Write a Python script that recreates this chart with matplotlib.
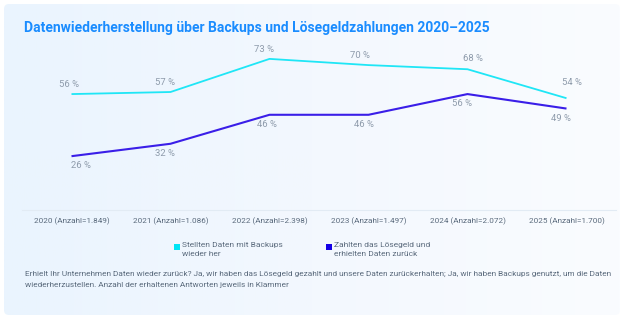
import numpy as np
import matplotlib
matplotlib.use("Agg")
import matplotlib.pyplot as plt
from matplotlib.patches import FancyBboxPatch, Rectangle
from matplotlib.colors import LinearSegmentedColormap

plt.rcParams['font.family'] = ['Roboto', 'DejaVu Sans']

# ---- data ----
categories = ["2020 (Anzahl=1.849)", "2021 (Anzahl=1.086)", "2022 (Anzahl=2.398)",
              "2023 (Anzahl=1.497)", "2024 (Anzahl=2.072)", "2025 (Anzahl=1.700)"]
backups = [56, 57, 73, 70, 68, 54]
ransom = [26, 32, 46, 46, 56, 49]
series_names = ["Stellten Daten mit Backups\nwieder her",
                "Zahlten das Lösegeld und\nerhielten Daten zurück"]
title = "Datenwiederherstellung über Backups und Lösegeldzahlungen 2020–2025"
footnote = ("Erhielt Ihr Unternehmen Daten wieder zurück? Ja, wir haben das Lösegeld gezahlt und unsere Daten "
            "zurückerhalten; Ja, wir haben Backups genutzt, um die Daten\n"
            "wiederherzustellen. Anzahl der erhaltenen Antworten jeweils in Klammer")

# label offsets (points) for readability
backup_dx = [-2, -4, -4, -6, 4, 4]
backup_dy = [7, 7, 6.5, 7, 8, 11]
ransom_dx = [7, -4, -2, -3, -4, -4]
ransom_dy = [-7, -7, -7, -7, -7, -7]

W, H = 627, 321
fig = plt.figure(figsize=(W / 100, H / 100), dpi=100)
fig.patch.set_facecolor("white")

# background card with gradient
bg = fig.add_axes([0, 0, 1, 1])
bg.set_xlim(0, W)
bg.set_ylim(H, 0)
bg.axis("off")
card = FancyBboxPatch((4, 4), 616, 311, boxstyle="round,pad=0,rounding_size=5",
                      facecolor="none", edgecolor="none")
bg.add_patch(card)
grad = np.linspace(0, 1, 256)[None, :]
cmap = LinearSegmentedColormap.from_list("g", ["#eaf4fe", "#f3f8fe", "#fafcff"])
im = bg.imshow(grad, extent=(4, 620, 315, 4), aspect="auto", cmap=cmap, zorder=0)
im.set_clip_path(card)

# main axes
x0, x1 = 22, 616
y_zero, y_top = 210, 44.4
ax = fig.add_axes([x0 / W, (H - y_zero) / H, (x1 - x0) / W, (y_zero - y_top) / H])
ax.patch.set_alpha(0)
x = np.arange(len(categories))
c_back = "#1fe6f6"
c_ransom = "#3a1ee8"
ax.plot(x, backups, color=c_back, lw=1.3, solid_capstyle="butt")
ax.plot(x, ransom, color=c_ransom, lw=1.5, solid_capstyle="butt")
ax.set_xlim(-0.5, len(categories) - 0.5)
ax.set_ylim(0, 80)
for s in ["top", "left", "right"]:
    ax.spines[s].set_visible(False)
ax.spines["bottom"].set_color("#e2ebf4")
ax.spines["bottom"].set_linewidth(0.8)
ax.set_yticks([])
ax.set_xticks(x)
ax.set_xticklabels(categories, fontsize=5.9, color="#5b6b7d")
ax.tick_params(axis="x", length=0, pad=5)

lab_col = "#8e9bab"
for i, v in enumerate(backups):
    ax.annotate(f"{v} %", (x[i], v), xytext=(backup_dx[i], backup_dy[i]),
                textcoords="offset points", ha="center", va="center",
                fontsize=6.8, color=lab_col)
for i, v in enumerate(ransom):
    ax.annotate(f"{v} %", (x[i], v), xytext=(ransom_dx[i], ransom_dy[i]),
                textcoords="offset points", ha="center", va="center",
                fontsize=6.8, color=lab_col)

# legend (manual)
leg_colors = ["#00e5f5", "#1400e6"]
leg_x = [174, 326]
for lx, col, name in zip(leg_x, leg_colors, series_names):
    bg.add_patch(Rectangle((lx, 243.5), 6, 6, facecolor=col, edgecolor="none", zorder=3))
    bg.text(lx + 8.5, 242.5, name, fontsize=6.0, color="#5b6b7d", ha="left", va="top",
            linespacing=1.5, zorder=3)

bg.text(24, 28, title, fontsize=10.0, fontweight="bold",
        color="#1a8cff", ha="left", va="center")
bg.text(25, 270.5, footnote, fontsize=5.95, color="#5b6b7d",
        ha="left", va="top", linespacing=2.1)

fig.savefig("out.png", dpi=100, facecolor="white")
